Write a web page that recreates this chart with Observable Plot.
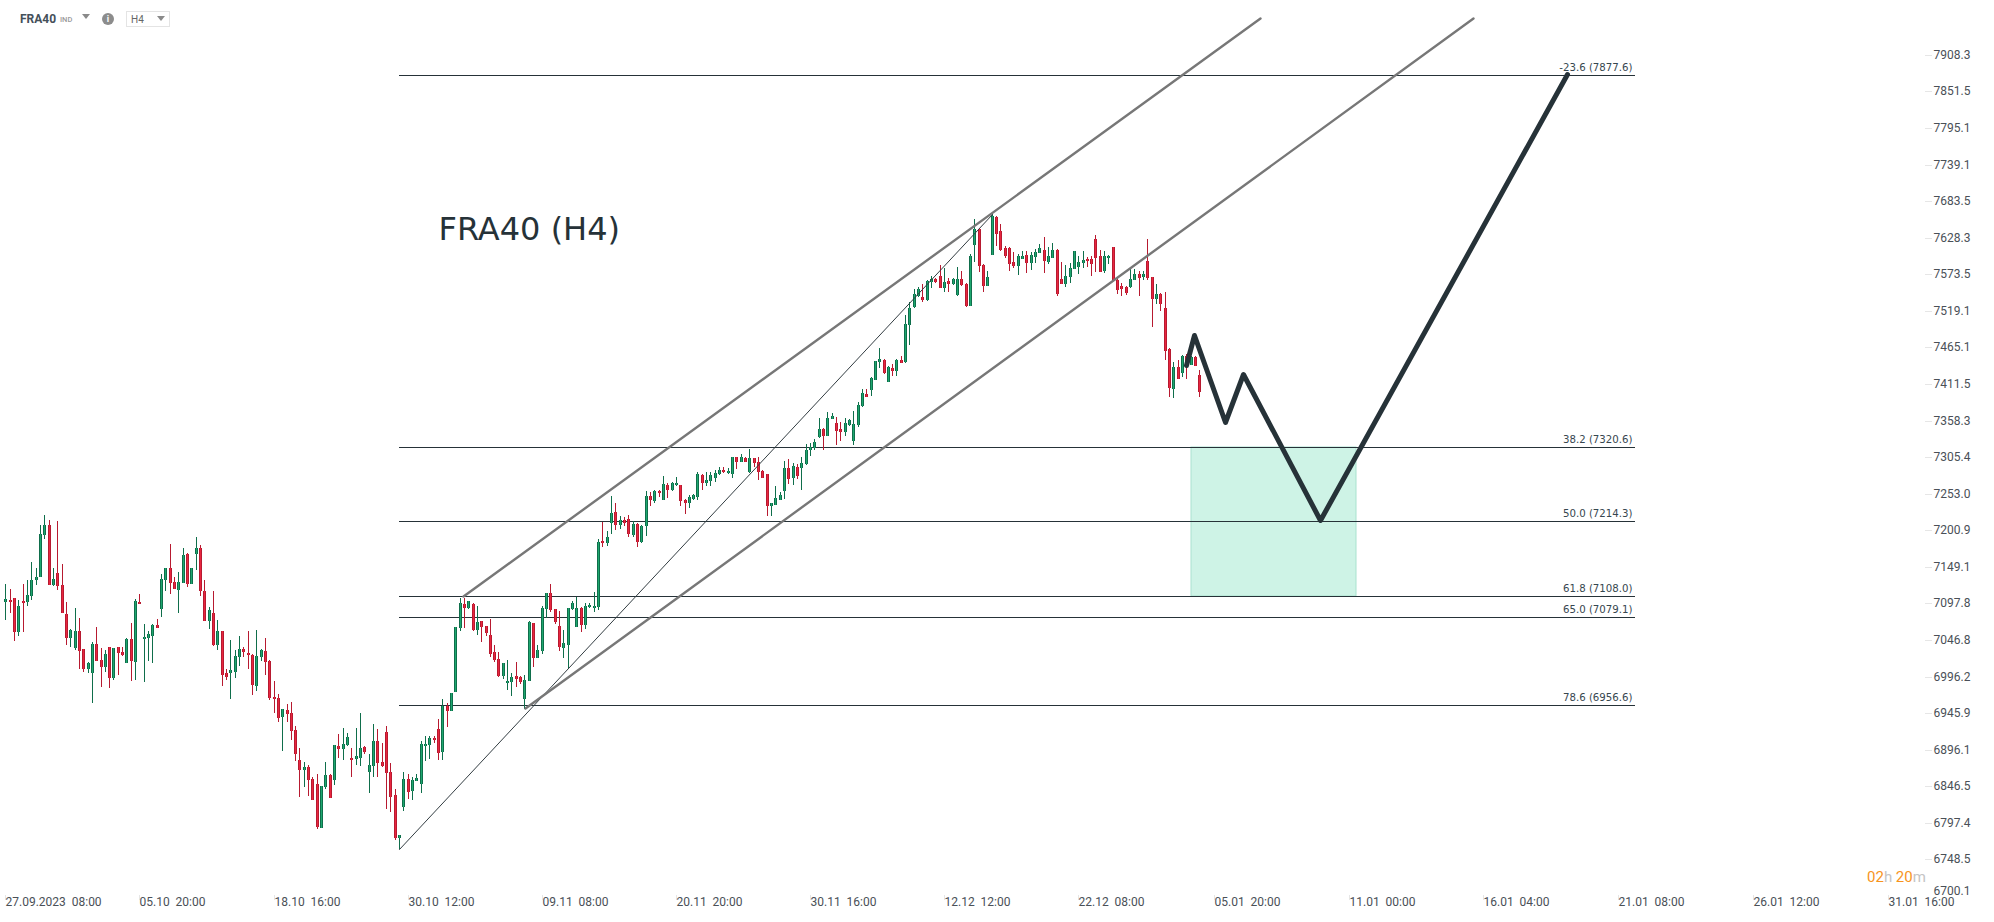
<!DOCTYPE html>
<html><head><meta charset="utf-8">
<script src="https://cdn.jsdelivr.net/npm/d3@7"></script>
<script src="https://cdn.jsdelivr.net/npm/@observablehq/plot@0.6"></script>
<style>
html,body{margin:0;padding:0;background:#fff;width:1994px;height:922px;overflow:hidden;position:relative}
svg{display:block}
.ov{position:absolute;font-family:Roboto,sans-serif;white-space:pre;line-height:1}
.car{position:absolute;width:0;height:0;border-left:4px solid transparent;border-right:4px solid transparent;border-top:5px solid #8a8a8a}
</style></head><body>
<div id="chart"></div>
<div class="ov" style="left:20px;top:13px;font-size:12px;font-weight:700;color:#44505a">FRA40</div>
<div class="ov" style="left:60px;top:16px;font-size:7.5px;font-weight:500;color:#9a9a9a">IND</div>
<div class="car" style="left:82px;top:14px"></div>
<div class="ov" style="left:102px;top:13px;width:12px;height:12px;border-radius:50%;background:#8c8c8c;color:#fff;font-size:9px;font-weight:700;text-align:center;line-height:12px">i</div>
<div style="position:absolute;left:126px;top:11px;width:42px;height:14px;border:1px solid #e4e4e4"></div>
<div class="ov" style="left:131px;top:15px;font-size:10px;color:#666">H4</div>
<div class="car" style="left:157px;top:16px"></div>
<div class="ov" style="left:1867px;top:870px;font-size:15px;color:#c4c4c4"><span style="color:#f7941d">02</span>h <span style="color:#f7941d">20</span>m</div>
<script>
// Candle direction, G = rising, R = falling (one letter per 4h bar)
const rising = "GRRGRGGGGG"+"RGRRRGGRRG"+"GRRGRGRRGR"+"GRGGGRGGRR"+"GGRGGRRGRG"+"RRGGGRRRGG"+"RRRRGRRRRG"+"RRRGGRGRGG"+"RGGRGGRRRR"+"RGGRGGGGGR"
 +"RGRGGGRGRG"+"RRRRRGGGRR"+"GGRGGGRRRG"+"GGGRGGGGRG"+"GRGRRGRGGR"+"GRGRGGRRGG"+"GRGGGGRGGR"+"GRGRRRRGGG"+"GRGRGGGGGR"+"GGRRGGGGGR"
 +"GGGRGRGRGG"+"GGRGGRRGRG"+"GRRGGRRGGR"+"RRRRGGRGGG"+"RGGRRGGGGG"+"RRRRGGRRRR"+"GGRGRRGRRR"+"GRGRGRR";
const high = [
7124.4,7117.4,7105.7,7102.9,7124.4,7130,7155.4,7147,7207.8,7222,
7214.9,7147,7213.5,7152.6,7099.2,7061.4,7090.8,7076.8,7034.5,7015.7,
7043.3,7064.2,7035,7032.2,7037.7,7036.3,7037.7,7037.7,7048.9,7069.8,
7103.4,7110.4,7068.4,7058.7,7068.4,7075.4,7138.5,7147.9,7180.8,7134.2,
7141.3,7175.1,7169,7147.9,7190.7,7179.4,7130,7092.2,7114.6,7074,
7059.6,7006,7046.1,7032.2,7051.7,7037.7,7059.9,7028,7060,7033.6,
7048.9,7019.4,6989.5,6971.7,6952,6957.9,6960.6,6927.8,6897.8,6878.8,
6874.7,6858.4,6862.5,6847.2,6878.8,6862.5,6902.8,6916.9,6925.1,6918.3,
6897.8,6925.1,6945.6,6901.4,6890.6,6930.5,6923.7,6904.6,6927.8,6877.5,
6842.3,6781.5,6865.2,6863.4,6858.4,6863.4,6907.3,6914.2,6914.2,6914.2,
6937.4,6964.8,6959.3,6974,7065.3,7105.6,7105.6,7101.4,7098.6,7094.5,
7073.6,7066.9,7075.5,7039.4,7029.6,7014.4,7018.5,7000.6,7015.8,6996.6,
6997.8,7073.6,7070.9,7039.4,7094.5,7112.6,7125.3,7090.2,7087,7061.1,
7091.7,7101.4,7107,7093.1,7098.6,7098.6,7113.9,7188.8,7212,7200.2,
7249.1,7240,7221.5,7220.1,7222.9,7214.4,7210.6,7207.7,7256.2,7255.7,
7258.6,7257.7,7278.7,7267.7,7269.1,7276.2,7265.8,7244.8,7250.5,7251.9,
7284.3,7280.5,7283.4,7284.3,7286.3,7291.6,7290.6,7289.2,7306,7306,
7309.4,7305,7316.6,7304.6,7305,7286.3,7281.5,7240,7263.4,7254.7,
7299.3,7303.1,7296.4,7295.9,7306,7323.8,7326.2,7332,7362.5,7348,
7370.1,7369.7,7363.9,7355.7,7362.5,7360,7372.5,7384.7,7403.7,7403.7,
7421,7445.5,7463.6,7447.5,7437.2,7440.1,7447.5,7452,7513.4,7531.6,
7551,7554,7558.4,7565.3,7571.3,7567.3,7586.7,7582.2,7567.3,7567.3,
7583.7,7577.8,7559.9,7603.2,7655.9,7642.3,7588.2,7577.8,7664.9,7660.4,
7648.4,7615.2,7613.7,7606.2,7603.2,7607.7,7607.7,7606.2,7610.7,7618.2,
7628.8,7613.7,7619.7,7610.7,7591.2,7586.7,7589.7,7608.7,7600.2,7607.7,
7598.7,7600.2,7631.8,7609.2,7607.7,7601.7,7614.7,7567.3,7559.9,7555.4,
7582.2,7580.7,7577.8,7577.8,7625.8,7569.8,7558.4,7545,7546.5,7463.6,
7443.1,7446,7453.4,7454.9,7452,7452.9,7431.3];
const bodyTop = [
7104.3,7102.9,7104.8,7094.5,7101.5,7109.9,7131,7135.2,7195.9,7208.8,
7208.8,7132.4,7140.8,7123.9,7083.3,7060,7059.6,7059.6,7033.6,7014.3,
7041.4,7041.4,7019.4,7028,7037.3,7035.9,7037.3,7030.4,7048.4,7048.4,
7101.5,7100.1,7051.2,7054.5,7068,7067,7132.4,7147.9,7147.9,7128.1,
7128.1,7166.2,7167.6,7147.9,7176.1,7176.1,7115.5,7088.9,7084.7,7059.6,
7058.7,7001.4,7005.6,7024.9,7034.5,7034.5,7029,7026.2,7024.9,7033.1,
7031.8,7018,6968.5,6967.1,6952,6950.6,6946.5,6923.3,6882.4,6872.9,
6872.9,6856.6,6849.9,6847.2,6862,6862,6902.8,6901.4,6904.1,6913.7,
6885.1,6886.9,6898.7,6900,6875.6,6908.2,6908.2,6879.7,6920.5,6866.2,
6835.1,6780.6,6856.6,6856.6,6855.3,6858,6904.1,6904.1,6912.4,6912.4,
6924.6,6955.1,6955.1,6974,7065.3,7098.6,7097.2,7101.4,7097.2,7072.2,
7073.6,7066.9,7054.2,7029.6,7020.8,7014.4,6990.5,6996.1,6997.4,6995.2,
6991.9,7072.2,7070.9,7032.4,7091.7,7112.6,7112.6,7089.8,7066.9,7043,
7091.7,7098.6,7091.7,7091.7,7094.5,7095.9,7094.5,7184.5,7186,7191.7,
7225.8,7227.1,7215.8,7215.8,7217.2,7210.1,7210.1,7207.2,7250,7250,
7257.2,7257.2,7267.2,7265.8,7268.6,7268.6,7265.8,7244.3,7248.6,7251.4,
7280.5,7280,7272.9,7280,7282.9,7287.2,7287.2,7285.8,7306,7306,
7305,7304.6,7303.6,7303.6,7298.8,7285.8,7280.5,7239.1,7247.1,7251.4,
7290.1,7290.1,7293,7291.6,7297.4,7316.1,7320.4,7327.7,7346.5,7346.5,
7362.5,7365.3,7355.2,7345.5,7354.3,7359.5,7353.8,7381.3,7398.8,7397.4,
7420.5,7445.5,7447.5,7447,7436.7,7435.2,7447,7446,7500,7523.7,
7544.5,7552,7540.1,7563.9,7565.8,7565.8,7571.3,7562.4,7562.9,7565.8,
7566.8,7566.8,7559.4,7601.2,7640.8,7640.8,7587.7,7569.8,7660.4,7660,
7637.8,7612.2,7613.2,7592.2,7600.2,7601.2,7601.7,7601.7,7607.2,7613.2,
7610.2,7600.2,7610.2,7610.2,7565.8,7571.3,7583.2,7608.7,7592.2,7595.2,
7596.7,7596.7,7625.8,7600.2,7601.2,7601.2,7614.7,7564.4,7555.4,7553.9,
7566.8,7573.3,7573.3,7573.3,7592.7,7569.8,7544.5,7544.5,7523.7,7463.1,
7436.7,7436.7,7452.9,7452,7451.4,7451.4,7423.9];
const bodyBottom = [
7099.7,7099.7,7057.7,7057.7,7098.2,7099.7,7108,7131,7134.7,7194,
7123.5,7123,7122.1,7084.2,7049.4,7049.4,7035.4,7031.3,7006.5,7006.5,
7001,7017.5,7009.3,7009.3,6994.1,6994.1,7028.5,7025.8,7014.8,7017.5,
7016.1,7096.8,7047.9,7049.4,7052.1,7063.3,7089.8,7130.5,7126.2,7117.9,
7116.5,7126.2,7124.9,7124.9,7167.1,7115.1,7073,7073,7039.6,7039.6,
6998.2,6995.5,7001,7002.4,7023,7029.5,7025.3,6984.5,6983.1,7023,
7016.1,6966.4,6965.3,6939.2,6940.1,6944.6,6921.4,6889.7,6868.4,6868.4,
6854.9,6827.5,6791.3,6790.4,6845,6830.6,6854.9,6896.4,6896.4,6901.9,
6881.5,6882.9,6884.2,6892.4,6865.2,6873.4,6877.5,6873.4,6863.9,6831.5,
6776.6,6776.6,6818,6838.2,6839.6,6853,6849,6900.5,6901.9,6908.8,
6891,6892.4,6948.3,6948.3,6974.9,7062.9,7091.2,7090.7,7060.7,7060.7,
7064.8,7056.5,7027.3,7019,6996.6,6996.6,6986.8,6988.2,6992.3,6988.2,
6965.2,6990,7021.3,7021.3,7031,7089.3,7087.9,7072.2,7036.7,7035.2,
7039.9,7089.8,7064.8,7067.4,7067.4,7092.2,7090.7,7092.7,7182.2,7182.2,
7210.6,7207.7,7207.7,7211.1,7195,7193.5,7184,7184,7206.3,7243.8,
7242.4,7253.4,7243.8,7258.1,7258.1,7264.8,7242.4,7239.1,7239.1,7244.8,
7247.6,7268.1,7268.1,7270.9,7274.8,7280.5,7283.9,7282,7281,7298.3,
7298.3,7298.3,7283.9,7296.9,7284.3,7275.3,7235.2,7235.2,7236.7,7243.8,
7257.2,7273.4,7274.8,7277.6,7289.7,7295.5,7315.1,7319,7333.9,7335.4,
7335.8,7360,7342.6,7341.1,7341.1,7351.3,7328.1,7351.3,7378.9,7392.5,
7402.2,7417.2,7443.1,7426.9,7414.3,7429.9,7429.9,7441.6,7444,7497.5,
7524.7,7540.6,7534.6,7534.6,7561.4,7561.4,7552.5,7552.5,7558.4,7558.4,
7542,7556.9,7525.7,7526.2,7616.7,7585.7,7555.9,7555.9,7602.2,7633.8,
7609.2,7600.2,7588.2,7585.2,7585.2,7595.7,7589.7,7589.7,7598.7,7605.2,
7592.7,7591.2,7597.2,7543.5,7558.4,7558.4,7568.8,7581.7,7583.7,7589.7,
7592.7,7588.2,7597.2,7576.2,7577.8,7597.2,7563.9,7549.5,7551,7545,
7553.9,7564.4,7568.3,7568.8,7567.3,7536.1,7536.1,7528.6,7459.9,7405.1,
7403.7,7419.5,7426.9,7438.6,7440,7437.2,7400.2];
const low = [
7074,7084.2,7044.7,7052.1,7057.3,7093.6,7102,7123,7134.7,7187.9,
7123.5,7121.6,7116,7084.2,7040.5,7037.7,7032.2,7006,7001.9,7000.5,
6959.3,7017.5,6981.3,7001.9,6979.9,6991.4,6997.8,7024.4,7014.8,6989.5,
6990.9,7096.4,6988.2,7017,7014.3,7063.3,7078.2,7114.6,7110.4,7117.4,
7083.8,7125.8,7120.2,7124.4,7144.1,7107.6,7072.6,7061.4,7039.1,7032.2,
6982.7,6990.9,6964.8,6993.7,7010.2,7022.6,7006,6970.3,6975.8,7017,
6997.8,6963.6,6945.6,6933.3,6893.7,6933.3,6908.8,6880.2,6831.5,6845,
6832.8,6827.5,6788.6,6790.4,6842.3,6830.2,6847.7,6884.2,6881.5,6900.5,
6858.4,6874.7,6873.4,6890.6,6836.9,6858.4,6858.4,6872,6815.3,6811.3,
6773.9,6762.8,6812.6,6828.8,6827.5,6853,6837.3,6880.2,6882.9,6904.6,
6881.5,6881.5,6926.4,6948.3,6974.9,7059.3,7062.9,7089.3,7059.3,7053.7,
7043.5,7052.3,7023.1,7015.8,6995.2,6992.3,6977.2,6968.9,6981.2,6985.4,
6952,6989.6,7008.9,7021.3,7027.8,7077.8,7085.2,7069,7031,7021.3,
7006.1,7088.9,7064.8,7057.5,7061.6,7090.7,7085.6,7088,7176.6,7178,
7195,7200.6,7203,7206.8,7190.8,7191.2,7176.6,7183.1,7192.1,7235.7,
7239.1,7247.6,7243.3,7246.2,7257.2,7264.3,7234.8,7223.4,7232,7244.3,
7243.3,7257.7,7263.4,7263.4,7269.1,7279.1,7282.9,7281.5,7274.8,7287.7,
7297.8,7297.8,7282.9,7290.6,7271.9,7274.8,7220.6,7220.6,7236.2,7243.3,
7244.8,7267.2,7264.8,7273.4,7257.6,7294,7306.5,7315.1,7332.5,7315.1,
7335.4,7360,7322.4,7328.1,7335.4,7349.8,7322.4,7348.4,7377.9,7392,
7393.4,7416.8,7434.3,7425.5,7413.8,7422.5,7422.5,7441.6,7441.6,7469.4,
7523.7,7539.6,7531.6,7533.1,7552.5,7560.9,7552.5,7546.5,7546.5,7556.9,
7540.6,7555.4,7524.2,7525.7,7591.2,7576.2,7546.5,7555.4,7601.7,7615.2,
7607.7,7597.2,7577.8,7582.2,7571.8,7595.7,7574.8,7579.2,7589.7,7604.7,
7574.8,7588.2,7597.2,7540.6,7558.4,7554,7559.9,7580.7,7573.3,7582.2,
7583.7,7570.3,7576.2,7576.2,7574.8,7588.2,7562.9,7543.5,7540.6,7542,
7552.5,7564.4,7540.6,7564.4,7564.4,7494.6,7528.6,7518.2,7446,7392,
7390.5,7419.5,7421,7419.5,7439.6,7437.2,7392];

// Price axis labels (log spaced)
const priceTicks = [7908.3,7851.5,7795.1,7739.1,7683.5,7628.3,7573.5,7519.1,7465.1,7411.5,7358.3,7305.4,7253.0,7200.9,7149.1,7097.8,7046.8,6996.2,6945.9,6896.1,6846.5,6797.4,6748.5];
const lastPriceTick = [6700.1];
// Time axis
const timeBars = [0,31,62,93,124,155,186,217,248,279.4,310.6,341.6,372.8,404,435.2];
const timeLabels = ["27.09.2023  08:00","05.10  20:00","18.10  16:00","30.10  12:00","09.11  08:00","20.11  20:00","30.11  16:00","12.12  12:00","22.12  08:00","05.01  20:00","11.01  00:00","16.01  04:00","21.01  08:00","26.01  12:00","31.01  16:00"];
// Fibonacci retracement
const fibRatios = [-23.6,38.2,50.0,61.8,65.0,78.6];
const fibPrices = [7877.6,7320.6,7214.3,7108.0,7079.1,6956.6];
const fibStartBar = 91, fibEndBar = 376.7;
// Diagonal drawing tools
const trendBars = [91,228], trendPrices = [6762.7,7664.5];
const upperChannelBars = [105.9,290], upperChannelPrices = [7108,7965.3];
const lowerChannelBars = [120.1,339.3], lowerChannelPrices = [6953,7965.3];
// Forecast path
const pathBars = [272.9,274.8,281.9,286,303.9,360.9];
const pathPrices = [7438.6,7482.8,7356,7425.5,7214.8,7878];
// Target zone
const zoneBars = [274.1,312.2], zonePrices = [7320.6,7108.0];
// Title, anchored at a bar and a price level
const titleText = ["FRA40 (H4)"], titleBar = 100, titlePrice = 7640.8;

const bars = d3.range(high.length);
const GREEN="#0f6e4b", GREENIN="#1ea76f", RED="#b71a30", REDIN="#e8263f";
const isUp = d => rising[d]==="G";
const ink = "#263238";

const chart = Plot.plot({
  width:1994, height:922, margin:0,
  x:{domain:[0,461], range:[5.33, 5.33+4.326*461], axis:null, round:true},
  y:{type:"log", domain:[7851.5,6748.5], range:[91.4,859.4], axis:null, round:true},
  color:{type:"identity"},
  style:{background:"#fff", fontFamily:"Roboto, sans-serif"},
  marks:[
    Plot.rect([0],{x1:()=>zoneBars[0],x2:()=>zoneBars[1],y1:()=>zonePrices[0],y2:()=>zonePrices[1],fill:"#cef3e6",stroke:"#a9e2cf",strokeWidth:1}),
    Plot.ruleY(fibPrices,{y:d=>d,x1:fibStartBar,x2:fibEndBar,stroke:ink,strokeWidth:1}),
    Plot.ruleX(bars,{x:d=>d,y1:d=>low[d],y2:d=>high[d],stroke:d=>isUp(d)?GREEN:RED,strokeWidth:1}),
    Plot.ruleX(bars,{x:d=>d,y1:d=>bodyBottom[d],y2:d=>bodyTop[d],stroke:d=>isUp(d)?GREEN:RED,strokeWidth:3}),
    Plot.ruleX(bars,{x:d=>d,y1:d=>bodyBottom[d],y2:d=>bodyTop[d],stroke:d=>isUp(d)?GREENIN:REDIN,strokeWidth:1}),
    Plot.line(trendBars,{x:d=>d,y:(d,i)=>trendPrices[i],stroke:"#333d42",strokeWidth:1}),
    Plot.line(upperChannelBars,{x:d=>d,y:(d,i)=>upperChannelPrices[i],stroke:"#777",strokeWidth:2.4}),
    Plot.line(lowerChannelBars,{x:d=>d,y:(d,i)=>lowerChannelPrices[i],stroke:"#777",strokeWidth:2.4}),
    Plot.line(pathBars,{x:d=>d,y:(d,i)=>pathPrices[i],stroke:ink,strokeWidth:5,strokeLinejoin:"round"}),
    Plot.text(fibPrices,{x:fibEndBar,y:d=>d,dy:-8,dx:-3,textAnchor:"end",text:(d,i)=>`${fibRatios[i].toFixed(1)} (${d.toFixed(1)})`,fontFamily:"DejaVu Sans",fontSize:10.2,fill:"#37474f"}),
    Plot.tickY(priceTicks,{y:d=>d,insetLeft:1925,insetRight:62,stroke:"#e6e6e6",strokeWidth:1}),
    Plot.text(priceTicks,{y:d=>d,frameAnchor:"right",dx:-24,textAnchor:"end",text:d=>d.toFixed(1),fontSize:12,fill:"#4a5057"}),
    Plot.text(lastPriceTick,{y:d=>d,frameAnchor:"right",dx:-24,dy:-5,textAnchor:"end",text:d=>d.toFixed(1),fontSize:12,fill:"#4a5057"}),
    Plot.tickX(timeBars,{x:d=>d,insetTop:895,insetBottom:22,stroke:"#e6e6e6",strokeWidth:1}),
    Plot.text(timeBars,{x:d=>d,frameAnchor:"bottom",dy:-17,textAnchor:"start",text:(d,i)=>timeLabels[i],fontSize:12,fill:"#4a5057"}),
    Plot.text(titleText,{x:()=>titleBar,y:()=>titlePrice,textAnchor:"start",text:d=>d,fontFamily:"DejaVu Sans",fontSize:32,fill:"#263238"})
  ]
});
document.getElementById("chart").appendChild(chart);
</script>
</body></html>
